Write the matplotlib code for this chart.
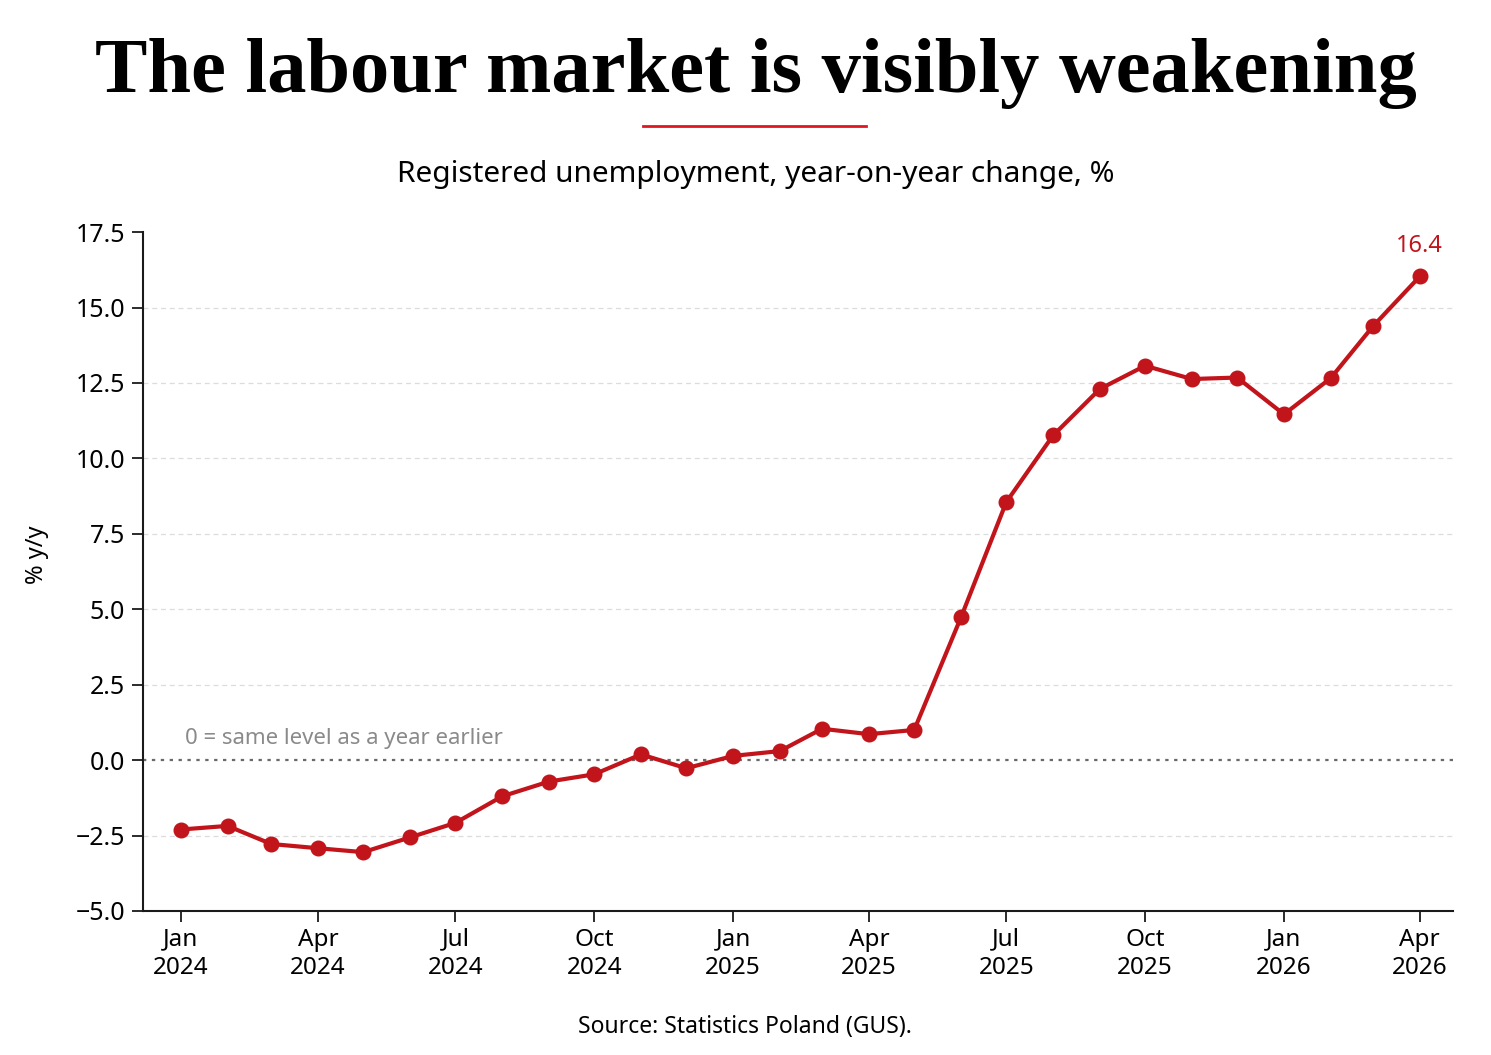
"""
Registered unemployment in Poland, y/y change
"""
import matplotlib as mpl
mpl.use("Agg")
import matplotlib.pyplot as plt
import matplotlib.dates as mdates
import numpy as np
import pandas as pd

# data
months = pd.date_range("2024-01-01", "2026-04-01", freq="MS")
yoy_change = [
    -2.30, -2.18, -2.78, -2.92, -3.05, -2.56, -2.08, -1.20, -0.71, -0.47,
    0.19, -0.27,
    0.14, 0.30, 1.04, 0.86, 1.00, 4.73, 8.55, 10.76, 12.30, 13.07, 12.63,
    12.68,
    11.46, 12.66, 14.38, 16.03,
]
last_label = "16.4"

title = "The labour market is visibly weakening"
subtitle = "Registered unemployment, year-on-year change, %"
source = "Source: Statistics Poland (GUS)."
zero_note = "0 = same level as a year earlier"
ylabel = "% y/y"

yticks = np.arange(-5.0, 17.6, 2.5)

red = "#c1141b"
sans = ["Noto Sans", "DejaVu Sans"]
plt.rcParams["font.family"] = sans

fig = plt.figure(figsize=(14.91, 10.55), dpi=100)
ax = fig.add_axes([0.0959, 0.1365, 0.8786, 0.6435])

x = mdates.date2num(months)

ax.plot(x, yoy_change, color=red, lw=3, marker="o", markersize=10.5,
        zorder=4, solid_joinstyle="round")
ax.axhline(0, color="#6a6a6a", lw=1.6, ls=(0, (1.5, 2.5)), zorder=2)

ax.set_ylim(-5, 17.5)
ax.set_yticks(yticks)
ax.set_yticklabels([f"{v:.1f}".replace("-", "\u2212") for v in yticks])
ax.set_xlim(mdates.date2num(pd.Timestamp("2023-12-07")),
            mdates.date2num(pd.Timestamp("2026-04-23")))

tick_dates = months[::3]
ax.set_xticks(mdates.date2num(tick_dates))
ax.set_xticklabels([d.strftime("%b\n%Y") for d in tick_dates])

# light dashed grid, none on the zero line or the top edge
for v in yticks[1:-1]:
    if v != 0:
        ax.axhline(v, color="#dcdcdc", lw=0.9, ls=(0, (4, 3)), zorder=1)

for side in ["top", "right"]:
    ax.spines[side].set_visible(False)
for side in ["left", "bottom"]:
    ax.spines[side].set_linewidth(1.5)
    ax.spines[side].set_color("#1a1a1a")
ax.tick_params(axis="both", length=8, width=1.3, color="#1a1a1a",
               labelsize=18, pad=5)
ax.tick_params(axis="x", labelsize=17.5, pad=4)
for lbl in ax.get_xticklabels():
    lbl.set_linespacing(1.25)

ax.text(mdates.date2num(pd.Timestamp("2024-01-04")), 0.55, zero_note,
        fontsize=16, color="#8a8a8a", va="baseline", ha="left")

ax.annotate(last_label, (x[-1], yoy_change[-1]), xytext=(0, 13),
            textcoords="offset points", ha="center", va="bottom",
            fontsize=17, color=red)

fig.text(37 / 1491, 1 - 555 / 1055, ylabel, rotation=90, fontsize=17,
         ha="center", va="center")

# title, fitted to the width it spans in the reference
t = fig.text(0.507, 1 - 92 / 1055, title, ha="center", va="baseline",
             family=["Liberation Serif", "DejaVu Serif"], weight="bold",
             fontsize=56)
renderer = fig.canvas.get_renderer()
w = t.get_window_extent(renderer).width
t.set_fontsize(56 * 1323 / w)

fig.add_artist(plt.Line2D([643 / 1491, 866 / 1491],
                          [1 - 126 / 1055, 1 - 126 / 1055],
                          color="#e0161e", lw=2))

fig.text(0.507, 1 - 182 / 1055, subtitle, ha="center", va="baseline",
         fontsize=21.5)
fig.text(0.4997, 1 - 1033 / 1055, source, ha="center", va="baseline",
         fontsize=16.5)

plt.savefig("out.png", dpi=100, facecolor="white")
plt.close()
